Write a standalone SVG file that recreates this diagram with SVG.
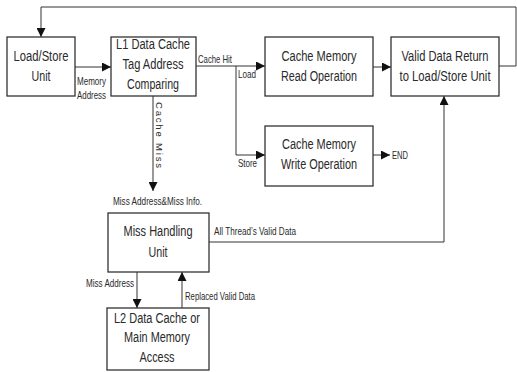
<svg xmlns="http://www.w3.org/2000/svg" width="517" height="372" viewBox="0 0 517 372">
<style>
.box{fill:#fff;stroke:#333;stroke-width:1.3}
.t{font-family:"Liberation Sans",Arial,sans-serif;font-size:15px;fill:#2a2a2a;text-anchor:middle}
.s{font-family:"Liberation Sans",Arial,sans-serif;font-size:10.5px;fill:#2a2a2a}
.c{fill:none;stroke:#333;stroke-width:1}
</style>
<defs>
<marker id="ah" viewBox="0 0 10 10" refX="10" refY="5" markerWidth="9" markerHeight="9" markerUnits="userSpaceOnUse" orient="auto">
<path d="M0,0 L10,5 L0,10 z" fill="#111"/>
</marker>
</defs>
<rect width="517" height="372" fill="#fff"/>
<g id="connectors">
<path class="c" d="M75,67 H111" marker-end="url(#ah)"/>
<path class="c" d="M196,66 H265" marker-end="url(#ah)"/>
<path class="c" d="M236,66 V155 H265" marker-end="url(#ah)"/>
<path class="c" d="M373,67 H391" marker-end="url(#ah)"/>
<path class="c" d="M373,155 H390" marker-end="url(#ah)"/>
<path class="c" d="M499,66 H516 V7 H41 V37" marker-end="url(#ah)"/>
<path class="c" d="M153,96 V191" marker-end="url(#ah)"/>
<path class="c" d="M137,272 V308" marker-end="url(#ah)"/>
<path class="c" d="M182,308 V272" marker-end="url(#ah)"/>
<path class="c" d="M209,242 H444 V96" marker-end="url(#ah)"/>
<text class="s" transform="translate(77,85) scale(0.76,1)" textLength="38.2" lengthAdjust="spacingAndGlyphs">Memory</text>
<text class="s" transform="translate(77,99) scale(0.76,1)" textLength="38.2" lengthAdjust="spacingAndGlyphs">Address</text>
<text class="s" transform="translate(198,63) scale(0.76,1)" textLength="44.7" lengthAdjust="spacingAndGlyphs">Cache Hit</text>
<text class="s" transform="translate(238,78) scale(0.76,1)" textLength="23.7" lengthAdjust="spacingAndGlyphs">Load</text>
<text class="s" transform="translate(238,167) scale(0.76,1)" textLength="25" lengthAdjust="spacingAndGlyphs">Store</text>
<text class="s" transform="translate(392,159) scale(0.76,1)" textLength="21" lengthAdjust="spacingAndGlyphs">END</text>
<text class="s" style="font-size:9.5px" transform="translate(156,102) rotate(90)" textLength="66" lengthAdjust="spacing">Cache Miss</text>
<text class="s" transform="translate(113,205) scale(0.76,1)" textLength="117.1" lengthAdjust="spacingAndGlyphs">Miss Address&amp;Miss Info.</text>
<text class="s" transform="translate(214,235) scale(0.76,1)" textLength="107.9" lengthAdjust="spacingAndGlyphs">All Thread’s Valid Data</text>
<text class="s" transform="translate(86,287) scale(0.76,1)" textLength="63.2" lengthAdjust="spacingAndGlyphs">Miss Address</text>
<text class="s" transform="translate(185,300) scale(0.76,1)" textLength="92.1" lengthAdjust="spacingAndGlyphs">Replaced Valid Data</text>
</g>
<g id="loadstore">
<rect class="box" x="7" y="37" width="68" height="59"/>
<g transform="translate(41,0) scale(0.77,1)">
<text class="t" y="61" textLength="71.4" lengthAdjust="spacingAndGlyphs">Load/Store</text>
<text class="t" y="81" textLength="24.7" lengthAdjust="spacingAndGlyphs">Unit</text>
</g>
</g>
<g id="l1">
<rect class="box" x="111" y="37" width="85" height="59"/>
<g transform="translate(153,0) scale(0.77,1)">
<text class="t" y="49" textLength="96.1" lengthAdjust="spacingAndGlyphs">L1 Data Cache</text>
<text class="t" y="69" textLength="79.2" lengthAdjust="spacingAndGlyphs">Tag Address</text>
<text class="t" y="89" textLength="67.5" lengthAdjust="spacingAndGlyphs">Comparing</text>
</g>
</g>
<g id="read">
<rect class="box" x="265" y="37" width="108" height="59"/>
<g transform="translate(319,0) scale(0.77,1)">
<text class="t" y="61" textLength="97.4" lengthAdjust="spacingAndGlyphs">Cache Memory</text>
<text class="t" y="81" textLength="98.7" lengthAdjust="spacingAndGlyphs">Read Operation</text>
</g>
</g>
<g id="valid">
<rect class="box" x="391" y="37" width="108" height="59"/>
<g transform="translate(445,0) scale(0.77,1)">
<text class="t" y="61" textLength="113" lengthAdjust="spacingAndGlyphs">Valid Data Return</text>
<text class="t" y="81" textLength="118.2" lengthAdjust="spacingAndGlyphs">to Load/Store Unit</text>
</g>
</g>
<g id="write">
<rect class="box" x="265" y="126" width="108" height="60"/>
<g transform="translate(319,0) scale(0.77,1)">
<text class="t" y="149" textLength="96.1" lengthAdjust="spacingAndGlyphs">Cache Memory</text>
<text class="t" y="169" textLength="98.7" lengthAdjust="spacingAndGlyphs">Write Operation</text>
</g>
</g>
<g id="miss">
<rect class="box" x="108" y="213" width="101" height="59"/>
<g transform="translate(158,0) scale(0.77,1)">
<text class="t" y="236" textLength="89.6" lengthAdjust="spacingAndGlyphs">Miss Handling</text>
<text class="t" y="257" textLength="24.7" lengthAdjust="spacingAndGlyphs">Unit</text>
</g>
</g>
<g id="l2">
<rect class="box" x="107" y="308" width="102" height="62"/>
<g transform="translate(157,0) scale(0.77,1)">
<text class="t" y="323" textLength="111.7" lengthAdjust="spacingAndGlyphs">L2 Data Cache or</text>
<text class="t" y="342" textLength="85.7" lengthAdjust="spacingAndGlyphs">Main Memory</text>
<text class="t" y="362" textLength="45.5" lengthAdjust="spacingAndGlyphs">Access</text>
</g>
</g>
</svg>
